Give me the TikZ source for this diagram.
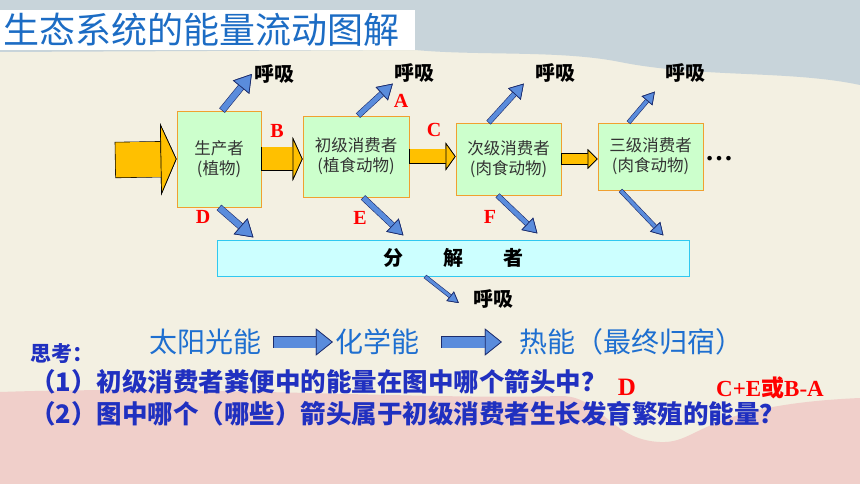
\documentclass[tikz,border=0pt]{standalone}
\usepackage{fontspec}
\setmainfont{Liberation Serif}
\newfontfamily\cjk{Noto Sans CJK SC}
\usetikzlibrary{arrows.meta}
\definecolor{paper}{HTML}{F3F0E2}
\definecolor{sky}{HTML}{C8D4DA}
\definecolor{blush}{HTML}{F0CFCA}
\definecolor{boxgreen}{HTML}{CCFFCC}
\definecolor{boxedge}{HTML}{F0A030}
\definecolor{decfill}{HTML}{CCFFFF}
\definecolor{decedge}{HTML}{30C8F0}
\definecolor{flowgold}{HTML}{FFC000}
\definecolor{flowblue}{HTML}{5A8CDC}
\definecolor{edgeblue}{HTML}{1C2C6C}
\definecolor{titleblue}{HTML}{1C6CC4}
\definecolor{sunblue}{HTML}{1E6FD0}
\definecolor{qblue}{HTML}{2030C0}
\tikzset{
  block/.style n args={5}{preaction={draw=#5, line width=#2+1.2pt, shorten <=0pt},
    draw=#1, line width=#2, shorten <=0.6pt,
    -{Triangle[length=#3, width=#4, line width=0.7pt, color=#5, fill=#1]}},
  goldflow/.style n args={3}{block={flowgold}{#1}{#2}{#3}{black}},
  blueflow/.style n args={3}{block={flowblue}{#1}{#2}{#3}{edgeblue}}
}
\begin{document}
\begin{tikzpicture}[x=1pt, y=-1pt,
  box/.style={draw=boxedge, fill=boxgreen, line width=0.8pt, inner sep=0pt, align=center,
    text=black!80, font=\cjk\fontsize{16.5}{20}\selectfont},
  resp/.style={font=\cjk\bfseries\fontsize{20}{20}\selectfont, inner sep=1pt},
  letter/.style={text=red, font=\bfseries\fontsize{20}{20}\selectfont, inner sep=0pt},
  bigtext/.style={text=sunblue, font=\cjk\fontsize{28}{28}\selectfont, inner sep=2pt},
  ask/.style={text=qblue, font=\cjk\bfseries\fontsize{25.5}{25.5}\selectfont, anchor=west, inner sep=0pt}]
\useasboundingbox (0,0) rectangle (860,484);
% background
\fill[paper] (0,0) rectangle (860,484);
\fill[sky] (0,0) -- (860,0) -- (860,85) .. controls (790,70) and (700,78) .. (620,62)
  .. controls (560,50) and (480,56) .. (415,50) -- (0,52) -- cycle;
\fill[blush] (0,392) .. controls (200,385) and (420,400) .. (560,396)
  .. controls (600,395) and (610,440) .. (660,442) .. controls (700,444) and (700,405) .. (860,398)
  -- (860,484) -- (0,484) -- cycle;
% title
\node[fill=white, anchor=west, text width=409pt, inner xsep=3pt, minimum height=40pt,
  text=titleblue, font=\cjk\fontsize{36}{36}\selectfont] (title) at (0,30) {生态系统的能量流动图解};
% trophic levels
\node[box, minimum width=84pt, minimum height=96pt] (prod) at (219,159) {生产者\\(植物)};
\node[box, minimum width=106pt, minimum height=81pt] (cons1) at (356,156.5) {初级消费者\\(植食动物)};
\node[box, minimum width=105pt, minimum height=72pt] (cons2) at (508.5,159) {次级消费者\\(肉食动物)};
\node[box, minimum width=105pt, minimum height=67pt] (cons3) at (650.5,156.5) {三级消费者\\(肉食动物)};
\node[draw=decedge, fill=decfill, line width=0.8pt, minimum width=472pt, minimum height=36pt,
  font=\cjk\bfseries\fontsize{20}{20}\selectfont] (decomp) at (453,258) {分\hspace{2em}解\hspace{2em}者};
\node[anchor=base west, inner sep=0pt, font=\bfseries\fontsize{28}{28}\selectfont] (more) at (705,161) {…};
% respiration labels
\node[resp] (r1) at (274,74) {呼吸};
\node[resp] (r2) at (414,73) {呼吸};
\node[resp] (r3) at (555,73) {呼吸};
\node[resp] (r4) at (685,73) {呼吸};
\node[resp] (r5) at (493,299) {呼吸};
\coordinate (sun) at (115,160);
% energy flow
\draw[goldflow={35pt}{16pt}{72pt}] (sun) -- (prod.west);
\draw[goldflow={23pt}{10pt}{44pt}] (prod.east) -- (cons1.west |- prod.east);
\draw[goldflow={14pt}{10pt}{28pt}] (cons1.east) -- (cons2.west |- cons1.east);
\draw[goldflow={10pt}{10pt}{20pt}] (cons2.east) -- (cons3.west |- cons2.east);
\draw[blueflow={6pt}{17pt}{21pt}] ([xshift=3pt]prod.north) -- ([xshift=-1pt]r1.west);
\draw[blueflow={5pt}{15pt}{18pt}] ([xshift=2pt]cons1.north) -- (r2.south west);
\draw[blueflow={4.5pt}{14pt}{17pt}] ([xshift=-20pt]cons2.north) -- ([xshift=-10pt]r3.south west);
\draw[blueflow={3.5pt}{12pt}{14pt}] ([xshift=-22pt]cons3.north) -- ([shift={(-9,8)}]r4.south west);
\draw[blueflow={6pt}{17pt}{21pt}] (prod.south) -- ([shift={(-8,30)}]prod.south east);
\draw[blueflow={5pt}{15pt}{18pt}] ([xshift=7pt]cons1.south) -- ([shift={(-6,38)}]cons1.south east);
\draw[blueflow={4.5pt}{14pt}{17pt}] ([xshift=-11pt]cons2.south) -- ([shift={(-24,38)}]cons2.south east);
\draw[blueflow={3.5pt}{12pt}{14pt}] ([xshift=-30pt]cons3.south) -- ([shift={(-40,45)}]cons3.south east);
\draw[blueflow={3pt}{11pt}{12pt}] ([xshift=-28pt]decomp.south) -- ([shift={(-13,4)}]r5.west);
% arrow letters
\node[letter] (la) at (401,101) {A};
\node[letter] (lb) at (277,131) {B};
\node[letter] (lc) at (434,130) {C};
\node[letter] (ld) at (203,217) {D};
\node[letter] (le) at (360,218) {E};
\node[letter] (lf) at (490,217) {F};
% energy forms
\node[bigtext] (solar) at (205,342) {太阳光能};
\node[bigtext] (chem) at (377,342) {化学能};
\node[bigtext] (heat) at (631,342) {热能（最终归宿）};
\draw[blueflow={11pt}{17pt}{27pt}] ([xshift=10pt]solar.east) -- (chem.west);
\draw[blueflow={11pt}{17pt}{27pt}] ([xshift=20pt]chem.east) -- ([xshift=-15pt]heat.west);
% questions
\node[ask, font=\cjk\bfseries\fontsize{21}{21}\selectfont] (think) at (30,354) {思考：};
\node[ask] (q1) at (30,382) {（1）初级消费者粪便中的能量在图中哪个箭头中？};
\node[ask] (q2) at (30,414) {（2）图中哪个（哪些）箭头属于初级消费者生长发育繁殖的能量？};
\node[letter, font=\bfseries\fontsize{25}{25}\selectfont] (ans1) at (627,387) {D};
\node[letter, font=\bfseries\fontsize{23}{23}\selectfont] (ans2) at (770,388) {C+E{\cjk 或}B-A};
\end{tikzpicture}
\end{document}
